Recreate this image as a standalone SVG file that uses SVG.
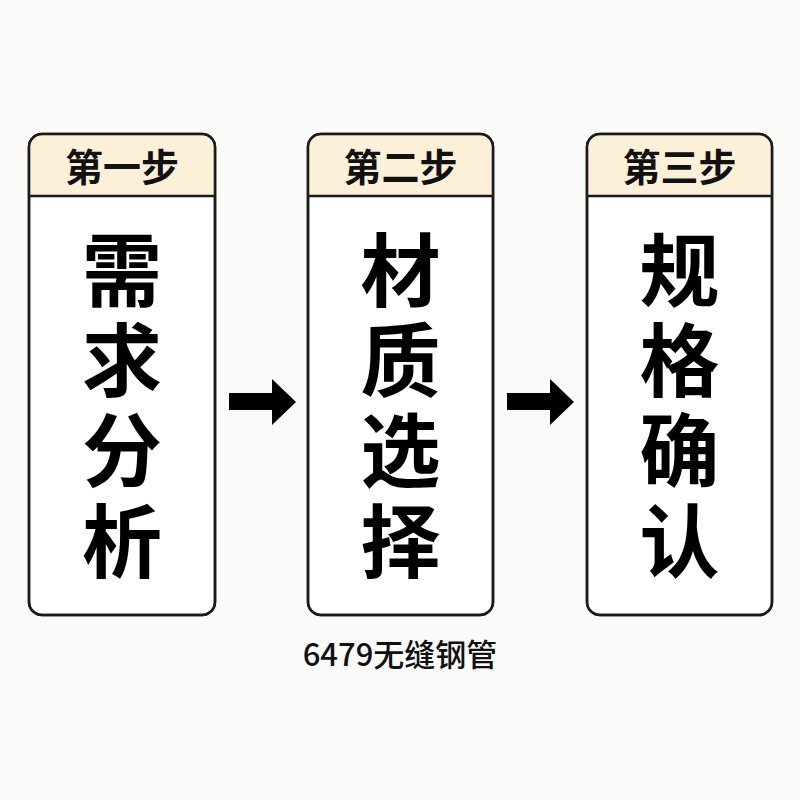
<svg xmlns="http://www.w3.org/2000/svg" width="800" height="800" viewBox="0 0 800 800">
<style>
.box{fill:#ffffff;stroke:#1a1a1a;stroke-width:2.5}
.hdr{fill:#fdf0d9}
.div{stroke:#1a1a1a;stroke-width:2.5}
.ht{font-family:"Noto Sans CJK SC",sans-serif;font-weight:bold;font-size:38px;text-anchor:middle;fill:#111}
.mt{font-family:"Noto Sans CJK SC",sans-serif;font-weight:bold;font-size:80px;text-anchor:middle;fill:#000}
.ft{font-family:"Noto Sans CJK SC",sans-serif;font-weight:500;font-size:31px;text-anchor:middle;fill:#111}
.arr{fill:#000}
</style>
<rect width="800" height="800" fill="#fafaf8"/>
<g id="step1">
<rect class="box" x="29" y="134" width="186" height="481" rx="13"/>
<path class="hdr" d="M42 135.3 H202 A11.7 11.7 0 0 1 213.7 147 V196 H30.3 V147 A11.7 11.7 0 0 1 42 135.3 Z"/>
<rect x="29" y="134" width="186" height="481" rx="13" fill="none" stroke="#1a1a1a" stroke-width="2.5"/>
<line class="div" x1="29" y1="196" x2="215" y2="196"/>
<text class="ht" x="122" y="181">第一步</text>
<text class="mt" x="122" y="300">需</text>
<text class="mt" x="122" y="390">求</text>
<text class="mt" x="122" y="480">分</text>
<text class="mt" x="122" y="571">析</text>
</g>
<g id="step2">
<rect class="box" x="308" y="134" width="185" height="481" rx="13"/>
<path class="hdr" d="M321 135.3 H480 A11.7 11.7 0 0 1 491.7 147 V196 H309.3 V147 A11.7 11.7 0 0 1 321 135.3 Z"/>
<rect x="308" y="134" width="185" height="481" rx="13" fill="none" stroke="#1a1a1a" stroke-width="2.5"/>
<line class="div" x1="308" y1="196" x2="493" y2="196"/>
<text class="ht" x="400.5" y="181">第二步</text>
<text class="mt" x="400.5" y="300">材</text>
<text class="mt" x="400.5" y="390">质</text>
<text class="mt" x="400.5" y="480">选</text>
<text class="mt" x="400.5" y="571">择</text>
</g>
<g id="step3">
<rect class="box" x="587" y="134" width="185" height="481" rx="13"/>
<path class="hdr" d="M600 135.3 H759 A11.7 11.7 0 0 1 770.7 147 V196 H588.3 V147 A11.7 11.7 0 0 1 600 135.3 Z"/>
<rect x="587" y="134" width="185" height="481" rx="13" fill="none" stroke="#1a1a1a" stroke-width="2.5"/>
<line class="div" x1="587" y1="196" x2="772" y2="196"/>
<text class="ht" x="679.5" y="181">第三步</text>
<text class="mt" x="679.5" y="300">规</text>
<text class="mt" x="679.5" y="390">格</text>
<text class="mt" x="679.5" y="480">确</text>
<text class="mt" x="679.5" y="571">认</text>
</g>
<g id="connectors">
<polygon class="arr" points="229,393 272,393 272,379 296,402 272,425 272,410 229,410"/>
<polygon class="arr" points="507,393 550,393 550,379 574,402 550,425 550,410 507,410"/>
</g>
<text class="ft" x="400" y="666">6479无缝钢管</text>
</svg>
